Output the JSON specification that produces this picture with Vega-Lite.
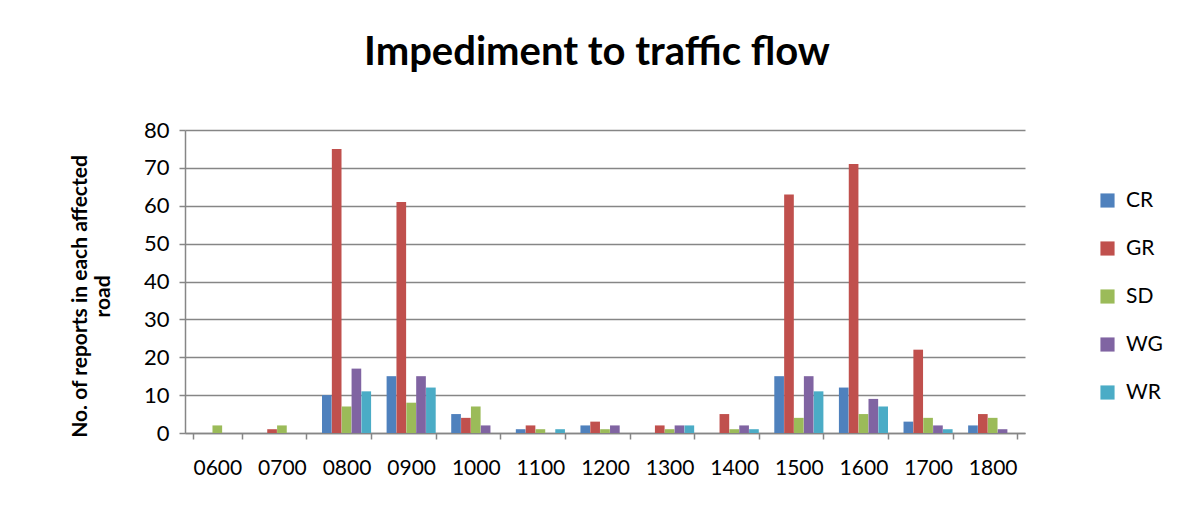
{
  "$schema": "https://vega.github.io/schema/vega-lite/v6.json",
  "autosize": "none",
  "width": 840,
  "height": 303,
  "padding": {"left": 185, "top": 130, "right": 167, "bottom": 73},
  "background": "white",
  "title": {"text": "Impediment to traffic flow", "fontSize": 40, "font": "Lato", "fontWeight": "bold", "color": "#000000", "anchor": "middle", "offset": 46, "dx": -8},
  "data": {"values": [
    {"time": "0600", "road": "CR", "n": 0}, {"time": "0600", "road": "GR", "n": 0}, {"time": "0600", "road": "SD", "n": 2}, {"time": "0600", "road": "WG", "n": 0}, {"time": "0600", "road": "WR", "n": 0},
    {"time": "0700", "road": "CR", "n": 0}, {"time": "0700", "road": "GR", "n": 1}, {"time": "0700", "road": "SD", "n": 2}, {"time": "0700", "road": "WG", "n": 0}, {"time": "0700", "road": "WR", "n": 0},
    {"time": "0800", "road": "CR", "n": 10}, {"time": "0800", "road": "GR", "n": 75}, {"time": "0800", "road": "SD", "n": 7}, {"time": "0800", "road": "WG", "n": 17}, {"time": "0800", "road": "WR", "n": 11},
    {"time": "0900", "road": "CR", "n": 15}, {"time": "0900", "road": "GR", "n": 61}, {"time": "0900", "road": "SD", "n": 8}, {"time": "0900", "road": "WG", "n": 15}, {"time": "0900", "road": "WR", "n": 12},
    {"time": "1000", "road": "CR", "n": 5}, {"time": "1000", "road": "GR", "n": 4}, {"time": "1000", "road": "SD", "n": 7}, {"time": "1000", "road": "WG", "n": 2}, {"time": "1000", "road": "WR", "n": 0},
    {"time": "1100", "road": "CR", "n": 1}, {"time": "1100", "road": "GR", "n": 2}, {"time": "1100", "road": "SD", "n": 1}, {"time": "1100", "road": "WG", "n": 0}, {"time": "1100", "road": "WR", "n": 1},
    {"time": "1200", "road": "CR", "n": 2}, {"time": "1200", "road": "GR", "n": 3}, {"time": "1200", "road": "SD", "n": 1}, {"time": "1200", "road": "WG", "n": 2}, {"time": "1200", "road": "WR", "n": 0},
    {"time": "1300", "road": "CR", "n": 0}, {"time": "1300", "road": "GR", "n": 2}, {"time": "1300", "road": "SD", "n": 1}, {"time": "1300", "road": "WG", "n": 2}, {"time": "1300", "road": "WR", "n": 2},
    {"time": "1400", "road": "CR", "n": 0}, {"time": "1400", "road": "GR", "n": 5}, {"time": "1400", "road": "SD", "n": 1}, {"time": "1400", "road": "WG", "n": 2}, {"time": "1400", "road": "WR", "n": 1},
    {"time": "1500", "road": "CR", "n": 15}, {"time": "1500", "road": "GR", "n": 63}, {"time": "1500", "road": "SD", "n": 4}, {"time": "1500", "road": "WG", "n": 15}, {"time": "1500", "road": "WR", "n": 11},
    {"time": "1600", "road": "CR", "n": 12}, {"time": "1600", "road": "GR", "n": 71}, {"time": "1600", "road": "SD", "n": 5}, {"time": "1600", "road": "WG", "n": 9}, {"time": "1600", "road": "WR", "n": 7},
    {"time": "1700", "road": "CR", "n": 3}, {"time": "1700", "road": "GR", "n": 22}, {"time": "1700", "road": "SD", "n": 4}, {"time": "1700", "road": "WG", "n": 2}, {"time": "1700", "road": "WR", "n": 1},
    {"time": "1800", "road": "CR", "n": 2}, {"time": "1800", "road": "GR", "n": 5}, {"time": "1800", "road": "SD", "n": 4}, {"time": "1800", "road": "WG", "n": 1}, {"time": "1800", "road": "WR", "n": 0}
  ]},
  "mark": {"type": "bar", "stroke": null},
  "encoding": {
    "x": {"field": "time", "type": "nominal", "sort": null,
      "scale": {"paddingInner": 0.24, "paddingOuter": 0.12},
      "axis": {"title": null, "labelAngle": 0, "labelFontSize": 21, "labelFont": "Lato", "labelColor": "#000000", "labelPadding": 18, "domainColor": "#868686", "domainWidth": 1.5, "tickColor": "#868686", "tickWidth": 1.5, "tickSize": 6, "tickBand": "extent"}},
    "xOffset": {"field": "road", "type": "nominal", "scale": {"paddingInner": 0.02}},
    "y": {"field": "n", "type": "quantitative",
      "scale": {"domain": [0, 80]},
      "axis": {"values": [0, 10, 20, 30, 40, 50, 60, 70, 80], "title": ["No. of reports in each affected", "road"], "titleFontSize": 21, "titleFont": "Lato", "titleFontWeight": "bold", "titleColor": "#000000", "titlePadding": 30, "titleY": 166, "labelFontSize": 22, "labelFont": "Lato", "labelColor": "#000000", "labelPadding": 10, "grid": true, "gridColor": "#868686", "gridWidth": 1.5, "domainColor": "#868686", "domainWidth": 1.5, "tickColor": "#868686", "tickWidth": 1.5, "tickSize": 6}},
    "color": {"field": "road", "type": "nominal",
      "scale": {"domain": ["CR", "GR", "SD", "WG", "WR"], "range": ["#4F81BD", "#C0504D", "#9BBB59", "#8064A2", "#4BACC6"]},
      "legend": {"title": null, "orient": "none", "legendX": 912, "legendY": 60, "symbolType": "square", "symbolSize": 200, "symbolStrokeWidth": 0, "labelFontSize": 21, "labelFont": "Lato", "labelColor": "#000000", "rowPadding": 26, "labelOffset": 8}}
  },
  "config": {"view": {"stroke": null}}
}
